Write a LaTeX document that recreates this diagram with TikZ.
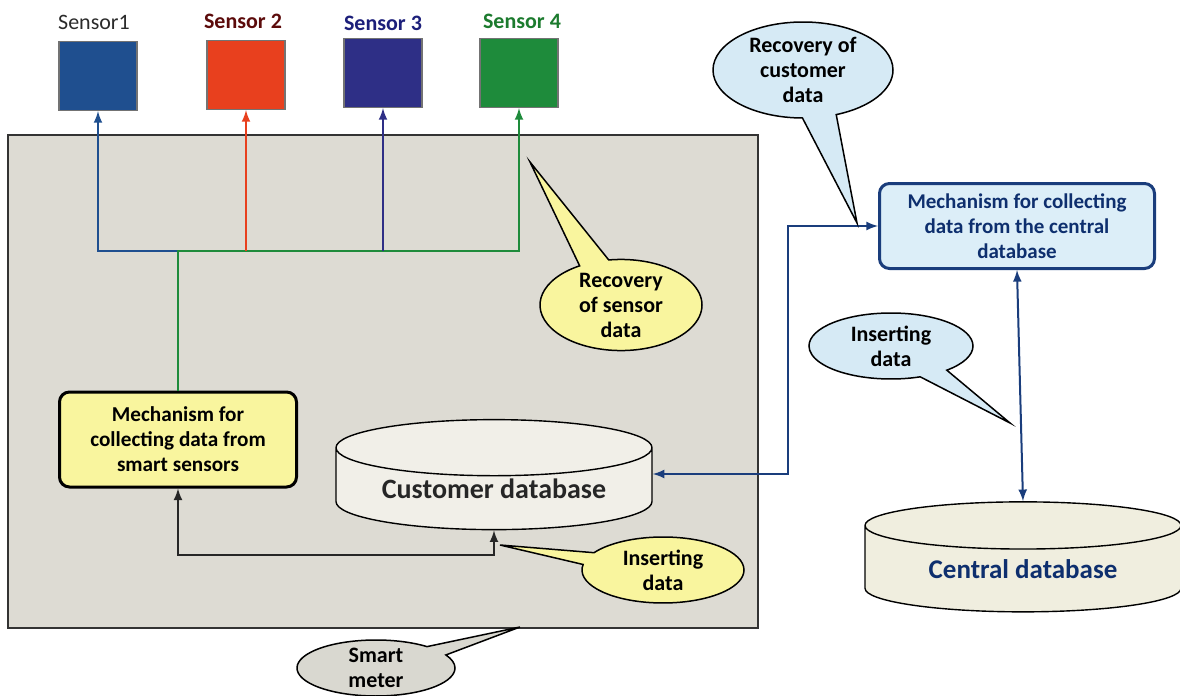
\documentclass[tikz,border=0pt]{standalone}
\usepackage{fontspec}
\setmainfont{Carlito}
\usetikzlibrary{shapes}
\usetikzlibrary{shapes.callouts}
\usetikzlibrary{arrows}

\definecolor{panelgray}{HTML}{DDDBD3}
\definecolor{sonefill}{HTML}{1F4F8F}
\definecolor{stwofill}{HTML}{E8401E}
\definecolor{sthreefill}{HTML}{2E2F86}
\definecolor{sfourfill}{HTML}{1E8B3B}
\definecolor{sonetext}{HTML}{2B2B2B}
\definecolor{stwotext}{HTML}{5C0B0B}
\definecolor{sthreetext}{HTML}{1C1F7A}
\definecolor{sfourtext}{HTML}{1C7B2E}
\definecolor{mechyellow}{HTML}{F9F59E}
\definecolor{mechblue}{HTML}{DCEEF8}
\definecolor{bubbleblue}{HTML}{D6EAF5}
\definecolor{bubblegray}{HTML}{D9D8D0}
\definecolor{navytext}{HTML}{0E2F6E}
\definecolor{navyline}{HTML}{1A3D7C}
\definecolor{custfill}{HTML}{F1EFE8}
\definecolor{centfill}{HTML}{F0EEDF}

\begin{document}
\begin{tikzpicture}[x=0.5pt,y=-0.5pt,>=latex,
  sensorbox/.style={draw=black!55,line width=0.6pt,minimum width=39pt,minimum height=34.5pt,inner sep=0pt},
  sensorlabel/.style={font=\fontsize{11}{12}\selectfont\bfseries,inner sep=0pt},
  mech/.style={rounded corners=5pt,line width=1.5pt,align=center,inner sep=0pt,
    font=\fontsize{10.5}{12.5}\selectfont\bfseries},
  dbcyl/.style={cylinder,shape border rotate=90,draw,line width=0.7pt,aspect=0.25,
    minimum width=158pt,minimum height=55pt,inner sep=0pt},
  bubble/.style={ellipse callout,draw,line width=0.75pt,callout pointer arc=22,
    align=center,inner sep=0pt,font=\fontsize{11}{12.5}\selectfont\bfseries},
  wire/.style={line width=1pt}]
  \useasboundingbox (0,0) rectangle (1180,696);

  % smart meter panel
  \node[draw=black!80,line width=0.8pt,fill=panelgray,minimum width=375pt,minimum height=246.5pt,inner sep=0pt]
    (meter) at (383,381.5) {};

  % sensors
  \node[sensorbox,fill=sonefill] (s1) at (98,76) {};
  \node[sensorbox,fill=stwofill] (s2) at (246,75) {};
  \node[sensorbox,fill=sthreefill] (s3) at (383,73) {};
  \node[sensorbox,fill=sfourfill] (s4) at (519,73) {};
  \node[sensorlabel,text=sonetext,font=\fontsize{11}{12}\selectfont] (l1) at (94,22) {Sensor1};
  \node[sensorlabel,text=stwotext] (l2) at (243,21) {Sensor 2};
  \node[sensorlabel,text=sthreetext] (l3) at (383,23) {Sensor 3};
  \node[sensorlabel,text=sfourtext] (l4) at (522,21) {Sensor 4};

  % mechanisms
  \node[mech,draw=black,fill=mechyellow,minimum width=118.5pt,minimum height=47.5pt,
    font=\fontsize{10.6}{12.5}\selectfont\bfseries] (mechS) at (178,439.5)
    {Mechanism for\\collecting data from\\smart sensors};
  \node[mech,draw=navyline,fill=mechblue,text=navytext,minimum width=137.5pt,minimum height=42.5pt]
    (mechC) at (1017,226) {Mechanism for collecting\\data from the central\\database};

  % databases
  \node[dbcyl,fill=custfill,font=\fontsize{14}{16}\selectfont\bfseries,text=black!85] (custdb) at (494,489)
    {Customer database};
  \node[dbcyl,fill=centfill,font=\fontsize{13.5}{16}\selectfont\bfseries,text=navytext] (centdb) at (1023,569)
    {Central database};

  % sensor wires
  \coordinate (jn) at (178,251);
  \coordinate (low) at (178,555);
  \coordinate (up) at (788,226);
  \draw[wire,sonefill,<-] (s1.south) |- (jn);
  \draw[wire,sfourfill,<-] (s4.south) |- (jn) -- (mechS.north);
  \draw[wire,stwofill,<-] (s2.south) -- (s2.south |- jn);
  \draw[wire,sthreefill,<-] (s3.south) -- (s3.south |- jn);

  % data wires
  \draw[wire,black!85,<->] (custdb.bottom) |- (low) -- (mechS.south);
  \draw[wire,navyline,<->] ([yshift=7.5pt]custdb.east) -| (up) -- (mechC.west);
  \draw[wire,navyline,<->] (mechC.south) -- (centdb.top);

  % callouts
  \node[bubble,fill=bubbleblue,minimum width=90pt,minimum height=48pt,
    callout absolute pointer={(857,223)}] (bcust) at (803,70) {Recovery of\\customer\\data};
  \node[bubble,fill=mechyellow,minimum width=81pt,minimum height=45pt,
    callout absolute pointer={(530,162)}] (bsens) at (621,305) {Recovery\\of sensor\\data};
  \node[bubble,fill=mechyellow,minimum width=81pt,minimum height=33pt,
    callout absolute pointer={(500,545)}] (binsa) at (663,570) {Inserting\\data};
  \node[bubble,fill=bubbleblue,minimum width=82pt,minimum height=33pt,
    callout absolute pointer={(1010,423)}] (binsb) at (891,346) {Inserting\\data};
  \node[bubble,fill=bubblegray,minimum width=79pt,minimum height=28pt,
    callout absolute pointer={(520,627)}] (bmeter) at (376,668) {Smart\\meter};
\end{tikzpicture}
\end{document}
